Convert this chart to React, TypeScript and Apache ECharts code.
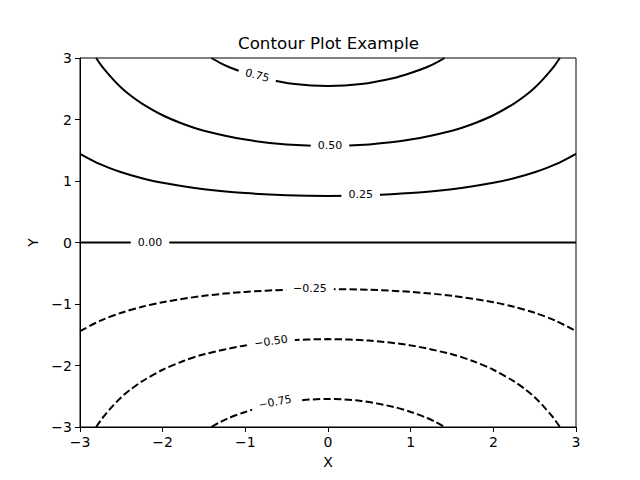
import React, { useEffect, useRef } from "react";
import * as echarts from "echarts";

// Contour lines (x, y pairs), left to right
const p075X = [-1.41, -1.3, -1.2, -1.0, -0.8, -0.4, 0, 0.4, 0.8, 1.0, 1.2, 1.3, 1.41];
const p075Y = [3.0, 2.917, 2.854, 2.755, 2.675, 2.576, 2.544, 2.576, 2.675, 2.755, 2.854, 2.917, 3.0];

const p050X = [-2.805, -2.75, -2.7, -2.6, -2.5, -2.4, -2.25, -2.0, -1.75, -1.5, -1.0, -0.5, 0, 0.5, 1.0, 1.5, 1.75, 2.0, 2.25, 2.4, 2.5, 2.6, 2.7, 2.75, 2.805];
const p050Y = [3.0, 2.893, 2.807, 2.653, 2.516, 2.402, 2.259, 2.069, 1.927, 1.818, 1.673, 1.595, 1.571, 1.595, 1.673, 1.818, 1.927, 2.069, 2.259, 2.402, 2.516, 2.653, 2.807, 2.893, 3.0];

const p025X = [-3, -2.75, -2.5, -2.25, -2.0, -1.5, -1.0, -0.5, 0, 0.5, 1.0, 1.5, 2.0, 2.25, 2.5, 2.75, 3];
const p025Y = [1.443, 1.269, 1.143, 1.046, 0.971, 0.867, 0.803, 0.769, 0.758, 0.769, 0.803, 0.867, 0.971, 1.046, 1.143, 1.269, 1.443];

const p000X = [-3, 3];
const p000Y = [0, 0];

const n025X = [-3, -2.75, -2.5, -2.25, -2.0, -1.5, -1.0, -0.5, 0, 0.5, 1.0, 1.5, 2.0, 2.25, 2.5, 2.75, 3];
const n025Y = [-1.443, -1.269, -1.143, -1.046, -0.971, -0.867, -0.803, -0.769, -0.758, -0.769, -0.803, -0.867, -0.971, -1.046, -1.143, -1.269, -1.443];

const n050X = [-2.805, -2.75, -2.7, -2.6, -2.5, -2.4, -2.25, -2.0, -1.75, -1.5, -1.0, -0.5, 0, 0.5, 1.0, 1.5, 1.75, 2.0, 2.25, 2.4, 2.5, 2.6, 2.7, 2.75, 2.805];
const n050Y = [-3.0, -2.893, -2.807, -2.653, -2.516, -2.402, -2.259, -2.069, -1.927, -1.818, -1.673, -1.595, -1.571, -1.595, -1.673, -1.818, -1.927, -2.069, -2.259, -2.402, -2.516, -2.653, -2.807, -2.893, -3.0];

const n075X = [-1.41, -1.3, -1.2, -1.0, -0.8, -0.4, 0, 0.4, 0.8, 1.0, 1.2, 1.3, 1.41];
const n075Y = [-3.0, -2.917, -2.854, -2.755, -2.675, -2.576, -2.544, -2.576, -2.675, -2.755, -2.854, -2.917, -3.0];

// Inline contour labels: text, x, y, rotation (degrees)
const labelText = ["0.75", "0.50", "0.25", "0.00", "\u22120.25", "\u22120.50", "\u22120.75"];
const labelX = [-0.855, 0.024, 0.395, -2.153, -0.218, -0.69, -0.641];
const labelY = [2.715, 1.577, 0.78, 0, -0.753, -1.61, -2.597];
const labelRot = [-15, 0, 0, 0, 0, 8, 11];

const FONT = "DejaVu Sans";

const fmt = (v: number) => (v < 0 ? "\u2212" + Math.abs(v) : String(v));

export default function App() {
  const ref = useRef<HTMLDivElement>(null);
  useEffect(() => {
    if (!ref.current) return;
    const chart = echarts.init(ref.current, null, { renderer: "svg" });

    const lines: [number[], number[], boolean][] = [
      [p075X, p075Y, false],
      [p050X, p050Y, false],
      [p025X, p025Y, false],
      [p000X, p000Y, false],
      [n025X, n025Y, true],
      [n050X, n050Y, true],
      [n075X, n075Y, true],
    ];

    const lineSeries = lines.map(([xs, ys, dashed]) => ({
      type: "line",
      data: xs.map((x, i) => [x, ys[i]]),
      smooth: 0.3,
      showSymbol: false,
      symbol: "none",
      lineStyle: {
        color: "#000",
        width: 2,
        type: dashed ? [7.4, 3.2] : "solid",
      },
      silent: true,
      z: 2,
    }));

    const axisCommon = {
      type: "value",
      min: -3,
      max: 3,
      interval: 1,
      splitLine: { show: false },
      axisLine: { show: true, onZero: false, lineStyle: { color: "#000", width: 1 } },
      axisTick: { show: true, inside: false, length: 5, lineStyle: { color: "#000", width: 1 } },
      axisLabel: {
        color: "#000",
        fontFamily: FONT,
        fontSize: 14,
        margin: 8,
        formatter: (v: number) => fmt(v),
      },
      nameLocation: "middle",
      nameTextStyle: { color: "#000", fontFamily: FONT, fontSize: 14 },
    };

    chart.setOption({
      animation: false,
      backgroundColor: "#fff",
      title: {
        text: "Contour Plot Example",
        left: 233,
        top: 29,
        textStyle: { fontFamily: FONT, fontSize: 16.7, fontWeight: "normal", color: "#000" },
      },
      grid: {
        left: 80,
        right: 64,
        top: 58,
        bottom: 53,
        show: true,
        borderColor: "#000",
        borderWidth: 1,
        backgroundColor: "transparent",
      },
      xAxis: { ...axisCommon, name: "X", nameGap: 28 },
      yAxis: { ...axisCommon, name: "Y", nameGap: 34, nameRotate: 90 },
      series: lineSeries,
    });

    const graphics = labelText.map((t, i) => {
      const p = chart.convertToPixel({ gridIndex: 0 }, [labelX[i], labelY[i]]) as number[];
      return {
        type: "text",
        x: p[0],
        y: p[1],
        rotation: (labelRot[i] * Math.PI) / 180,
        z: 100,
        silent: true,
        style: {
          text: t,
          fill: "#000",
          fontFamily: FONT,
          fontSize: 11,
          align: "center",
          verticalAlign: "middle",
          backgroundColor: "#ffffff",
          padding: [3, 7, 3, 7],
        },
      };
    });
    chart.setOption({ graphic: graphics });

    return () => chart.dispose();
  }, []);
  return <div ref={ref} style={{ width: 640, height: 480, position: "absolute", left: 0, top: 0 }} />;
}
